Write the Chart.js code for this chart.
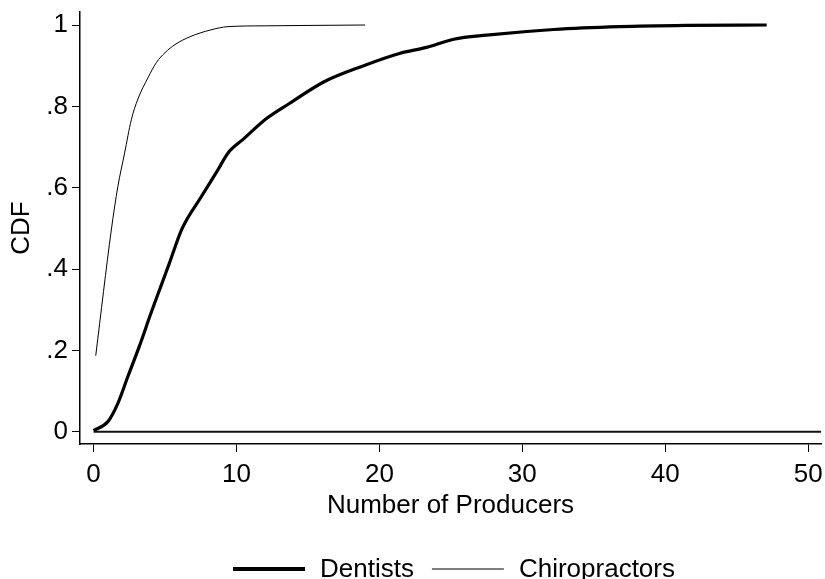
<!DOCTYPE html>
<html>
<head>
<meta charset="utf-8">
<script src="https://cdn.jsdelivr.net/npm/chart.js@4.4.1/dist/chart.umd.min.js"></script>
<style>
    html, body { margin: 0; padding: 0; background: #fff; }
    #wrap { width: 825px; height: 579px; }
</style>
</head>
<body>
<div id="wrap"><canvas id="cdf-chart"></canvas></div>
<script>
// values
const dentistsX = [0, 1.0, 1.7, 2.4, 3.2, 4.0, 4.7, 5.3, 6.2, 7.5, 8.7, 9.4, 10.5, 12.1, 13.7, 16.1, 18.9, 21.4, 23.3, 25.2, 27.5, 32.2, 36.8, 41.5, 47.1];
const dentistsY = [0.003, 0.025, 0.07, 0.136, 0.21, 0.29, 0.357, 0.414, 0.5, 0.576, 0.644, 0.685, 0.72, 0.77, 0.807, 0.86, 0.9, 0.93, 0.945, 0.965, 0.975, 0.989, 0.996, 0.999, 1.0];
const chiroX = [0.15, 1.24, 1.7, 2.17, 2.64, 3.1, 3.8, 4.4, 5.0, 5.7, 6.8, 8.2, 9.4, 12, 15, 19];
const chiroY = [0.187, 0.496, 0.603, 0.685, 0.767, 0.818, 0.87, 0.908, 0.932, 0.952, 0.972, 0.988, 0.996, 0.998, 0.999, 1.0];
const seriesNames = ['Dentists', 'Chiropractors'];
const xTicks = [0, 10, 20, 30, 40, 50];
const yTicks = [0, 0.2, 0.4, 0.6, 0.8, 1];
const yTickLabels = ['0', '.2', '.4', '.6', '.8', '1'];
const xMin = -0.95, xMax = 50.9;
const yMin = -0.03, yMax = 1.032;

const toPoints = (xs, ys) => xs.map((x, i) => ({x: x, y: ys[i]}));
const font = 'Liberation Sans, Arial, sans-serif';

// legend drawn under the axis title, Stata style
const bottomLegend = {
    id: 'bottomLegend',
    afterDraw(chart) {
        const ctx = chart.ctx;
        const items = chart.data.datasets.filter(d => d.label);
        ctx.save();
        ctx.font = '26px ' + font;
        ctx.textBaseline = 'middle';
        ctx.fillStyle = '#000';
        const lineLen = 72, gap = 15, itemGap = 18;
        let total = 0;
        items.forEach((d, i) => {
            total += lineLen + gap + ctx.measureText(d.label).width + (i < items.length - 1 ? itemGap : 0);
        });
        let x = 454 - total / 2;
        const y = 569;
        items.forEach(d => {
            ctx.strokeStyle = d.borderColor;
            ctx.lineWidth = d.legendWidth;
            ctx.beginPath();
            ctx.moveTo(x, y);
            ctx.lineTo(x + lineLen, y);
            ctx.stroke();
            x += lineLen + gap;
            ctx.fillText(d.label, x, y + 1);
            x += ctx.measureText(d.label).width + itemGap;
        });
        ctx.restore();
    }
};

const cdfChart = new Chart(document.getElementById('cdf-chart'), {
    type: 'line',
    data: {
        datasets: [{
            label: seriesNames[0],
            data: toPoints(dentistsX, dentistsY),
            borderColor: '#000',
            borderWidth: 3.2,
            legendWidth: 4,
            pointRadius: 0,
            cubicInterpolationMode: 'monotone'
        }, {
            label: seriesNames[1],
            data: toPoints(chiroX, chiroY),
            borderColor: '#000',
            borderWidth: 1,
            legendWidth: 1.2,
            pointRadius: 0,
            cubicInterpolationMode: 'monotone'
        }, {
            label: '',
            data: [{x: 0, y: 0}, {x: xMax, y: 0}],
            borderColor: '#111',
            borderWidth: 2,
            pointRadius: 0
        }]
    },
    options: {
        responsive: true,
        maintainAspectRatio: false,
        animation: false,
        layout: {
            padding: {top: 12, right: 4, left: 0, bottom: 0}
        },
        plugins: {
            legend: {display: false},
            tooltip: {enabled: false}
        },
        scales: {
            x: {
                type: 'linear',
                min: xMin,
                max: xMax,
                afterBuildTicks: s => { s.ticks = xTicks.map(v => ({value: v})); },
                afterFit: s => { s.height = 135; s.paddingLeft = 0; s.paddingRight = 0; },
                grid: {drawOnChartArea: false, drawTicks: true, tickLength: 8, color: '#000', lineWidth: 1},
                border: {display: true, color: '#000', width: 1.5},
                ticks: {color: '#000', padding: 7, maxRotation: 0, font: {family: font, size: 26}},
                title: {
                    display: true,
                    text: 'Number of Producers',
                    color: '#000',
                    font: {family: font, size: 26},
                    padding: {top: 0, bottom: 58}
                }
            },
            y: {
                type: 'linear',
                min: yMin,
                max: yMax,
                afterBuildTicks: s => { s.ticks = yTicks.map(v => ({value: v})); },
                afterFit: s => { s.width = 80; s.paddingTop = 0; s.paddingBottom = 0; },
                grid: {drawOnChartArea: false, drawTicks: true, tickLength: 8, color: '#000', lineWidth: 1},
                border: {display: true, color: '#000', width: 1.5},
                ticks: {
                    color: '#000',
                    padding: 4,
                    font: {family: font, size: 26},
                    callback: v => yTickLabels[yTicks.indexOf(v)]
                },
                title: {
                    display: true,
                    text: 'CDF',
                    color: '#000',
                    font: {family: font, size: 26},
                    padding: {top: 6, bottom: 0}
                }
            }
        }
    },
    plugins: [bottomLegend]
});
</script>
</body>
</html>
